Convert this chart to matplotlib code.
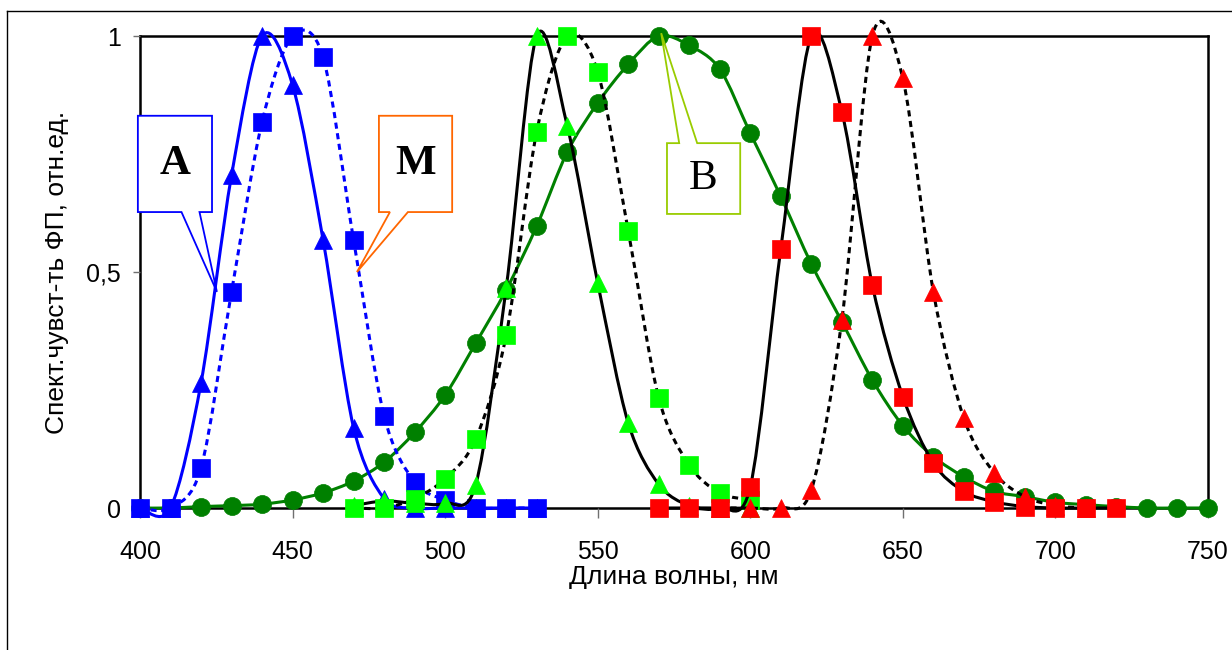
import numpy as np
import matplotlib.pyplot as plt
from matplotlib.path import Path
from matplotlib.patches import PathPatch, Polygon
from matplotlib.lines import Line2D

plt.rcParams['font.family'] = ['Liberation Sans', 'DejaVu Sans']

# blue pair (A / M)
wl_blue = [400, 410, 420, 430, 440, 450, 460, 470, 480, 490, 500, 510, 520, 530]
blue_tri = [0, 0, 0.265, 0.705, 1.0, 0.896, 0.568, 0.17, 0.02, 0, 0, 0, 0, 0]
blue_sq = [0, 0, 0.085, 0.458, 0.818, 1.0, 0.955, 0.568, 0.195, 0.055, 0.017, 0, 0, 0]

# wide green curve (B)
wl_green = [400, 410, 420, 430, 440, 450, 460, 470, 480, 490, 500, 510, 520, 530,
            540, 550, 560, 570, 580, 590, 600, 610, 620, 630, 640, 650, 660, 670,
            680, 690, 700, 710, 720, 730, 740, 750]
green = [0, 0, 0.003, 0.005, 0.008, 0.017, 0.032, 0.057, 0.097, 0.16, 0.239, 0.349,
         0.462, 0.597, 0.754, 0.858, 0.94, 1.0, 0.98, 0.93, 0.794, 0.66, 0.517, 0.395,
         0.271, 0.174, 0.109, 0.066, 0.035, 0.024, 0.012, 0.007, 0.003, 0, 0, 0]

# lime pair
wl_lime = [470, 480, 490, 500, 510, 520, 530, 540, 550, 560, 570, 580, 590, 600]
lime_tri = [0.005, 0.015, 0.01, 0.01, 0.049, 0.466, 1.0, 0.81, 0.477, 0.18, 0.05, 0.005, 0, 0]
lime_sq = [0, 0, 0.02, 0.062, 0.146, 0.366, 0.797, 1.0, 0.924, 0.587, 0.233, 0.091, 0.032, 0.017]

# red pair
wl_red_sq = [570, 580, 590, 600, 610, 620, 630, 640, 650, 660, 670, 680, 690, 700, 710, 720]
red_sq = [0, 0, 0, 0.045, 0.549, 1.0, 0.84, 0.472, 0.236, 0.095, 0.035, 0.013, 0.003, 0, 0, 0]
wl_red_tri = [590, 600, 610, 620, 630, 640, 650, 660, 670, 680, 690, 700, 710]
red_tri = [0, 0, 0, 0.038, 0.398, 1.0, 0.91, 0.458, 0.19, 0.074, 0.024, 0.005, 0]


def smooth_path(x, y):
    # excel-like smoothed line: bezier segments with catmull-rom control points
    p = np.column_stack([x, y]).astype(float)
    n = len(p)
    verts = [p[0]]
    codes = [Path.MOVETO]
    for i in range(n - 1):
        p0 = p[i - 1] if i > 0 else p[i]
        p3 = p[i + 2] if i + 2 < n else p[i + 1]
        verts += [p[i] + (p[i + 1] - p0) / 6.5, p[i + 1] - (p3 - p[i]) / 6.5, p[i + 1]]
        codes += [Path.CURVE4] * 3
    return Path(verts, codes)


def series(ax, x, y, line_color, ls, marker, mcolor, z):
    ax.add_patch(PathPatch(smooth_path(x, y), fill=False, edgecolor=line_color,
                           lw=2.2, linestyle=ls, zorder=z, capstyle='butt',
                           clip_on=False))
    ax.plot(x, y, linestyle='none', marker=marker, ms=13, color=mcolor,
            mec=mcolor, mew=0.5, zorder=z + 0.5, clip_on=False)


def callout(ax, box, base, tip, color, label, weight):
    x0, x1, yb, yt = box
    bl, br, by = base
    if by == yb:
        verts = [(x0, yt), (x1, yt), (x1, yb), (br, yb), tip, (bl, yb), (x0, yb)]
    else:
        verts = [(x0, yt), (bl, yt), tip, (br, yt), (x1, yt), (x1, yb), (x0, yb)]
    ax.add_patch(Polygon(verts, closed=True, facecolor='white', edgecolor=color,
                         lw=1.3, zorder=20, clip_on=False))
    ax.text((x0 + x1) / 2, (yb + yt) / 2, label, ha='center', va='center',
            fontsize=31, fontweight=weight, family='Liberation Serif', zorder=21)


fig = plt.figure(figsize=(12.32, 6.5), dpi=100)
ax = fig.add_axes([140 / 1232, 142 / 650, 1068 / 1232, 472 / 650])

dot = (0, (2.0, 1.5))
series(ax, wl_green, green, '#008000', '-', 'o', '#008000', 2)
series(ax, wl_blue, blue_tri, '#0000FF', '-', '^', '#0000FF', 3)
series(ax, wl_blue, blue_sq, '#0000FF', dot, 's', '#0000FF', 4)
series(ax, wl_lime, lime_tri, 'black', '-', '^', '#00FF00', 5)
series(ax, wl_lime, lime_sq, 'black', dot, 's', '#00FF00', 6)
series(ax, wl_red_tri, red_tri, 'black', dot, '^', '#FF0000', 7)
series(ax, wl_red_sq, red_sq, 'black', '-', 's', '#FF0000', 8)

callout(ax, (399.3, 423.6, 0.627, 0.831), (413.6, 419.5, 0.627), (425.2, 0.458),
        '#0000FF', 'А', 'bold')
callout(ax, (478.3, 502.3, 0.627, 0.831), (481.9, 487.8, 0.627), (471.1, 0.50),
        '#FF6600', 'М', 'bold')
callout(ax, (572.7, 596.7, 0.623, 0.773), (576.7, 582.6, 0.773), (570.8, 1.006),
        '#99CC00', 'В', 'normal')

ax.set_xlim(400, 750)
ax.set_ylim(0, 1)
ax.set_xticks([400, 450, 500, 550, 600, 650, 700, 750])
ax.set_yticks([0, 0.5, 1])
ax.set_yticklabels(['0', '0,5', '1'])
for s in ax.spines.values():
    s.set_linewidth(1.8)
    s.set_zorder(1)
ax.tick_params(axis='x', direction='out', length=7, width=1, color='#707070',
               labelsize=18, pad=16)
ax.tick_params(axis='y', direction='out', length=5, width=1, color='#707070',
               labelsize=18, pad=9)
ax.set_xlabel('Длина волны, нм', fontsize=19, labelpad=1)
ax.set_ylabel('Спект.чувст-ть ФП, отн.ед.', fontsize=19, labelpad=12)

# outer frame of the chart (left and top edges visible)
fig.add_artist(Line2D([7 / 1232, 7 / 1232], [0, 639 / 650], color='black', lw=1))
fig.add_artist(Line2D([7 / 1232, 1], [639 / 650, 639 / 650], color='black', lw=1))

fig.savefig('out.png', dpi=100)
